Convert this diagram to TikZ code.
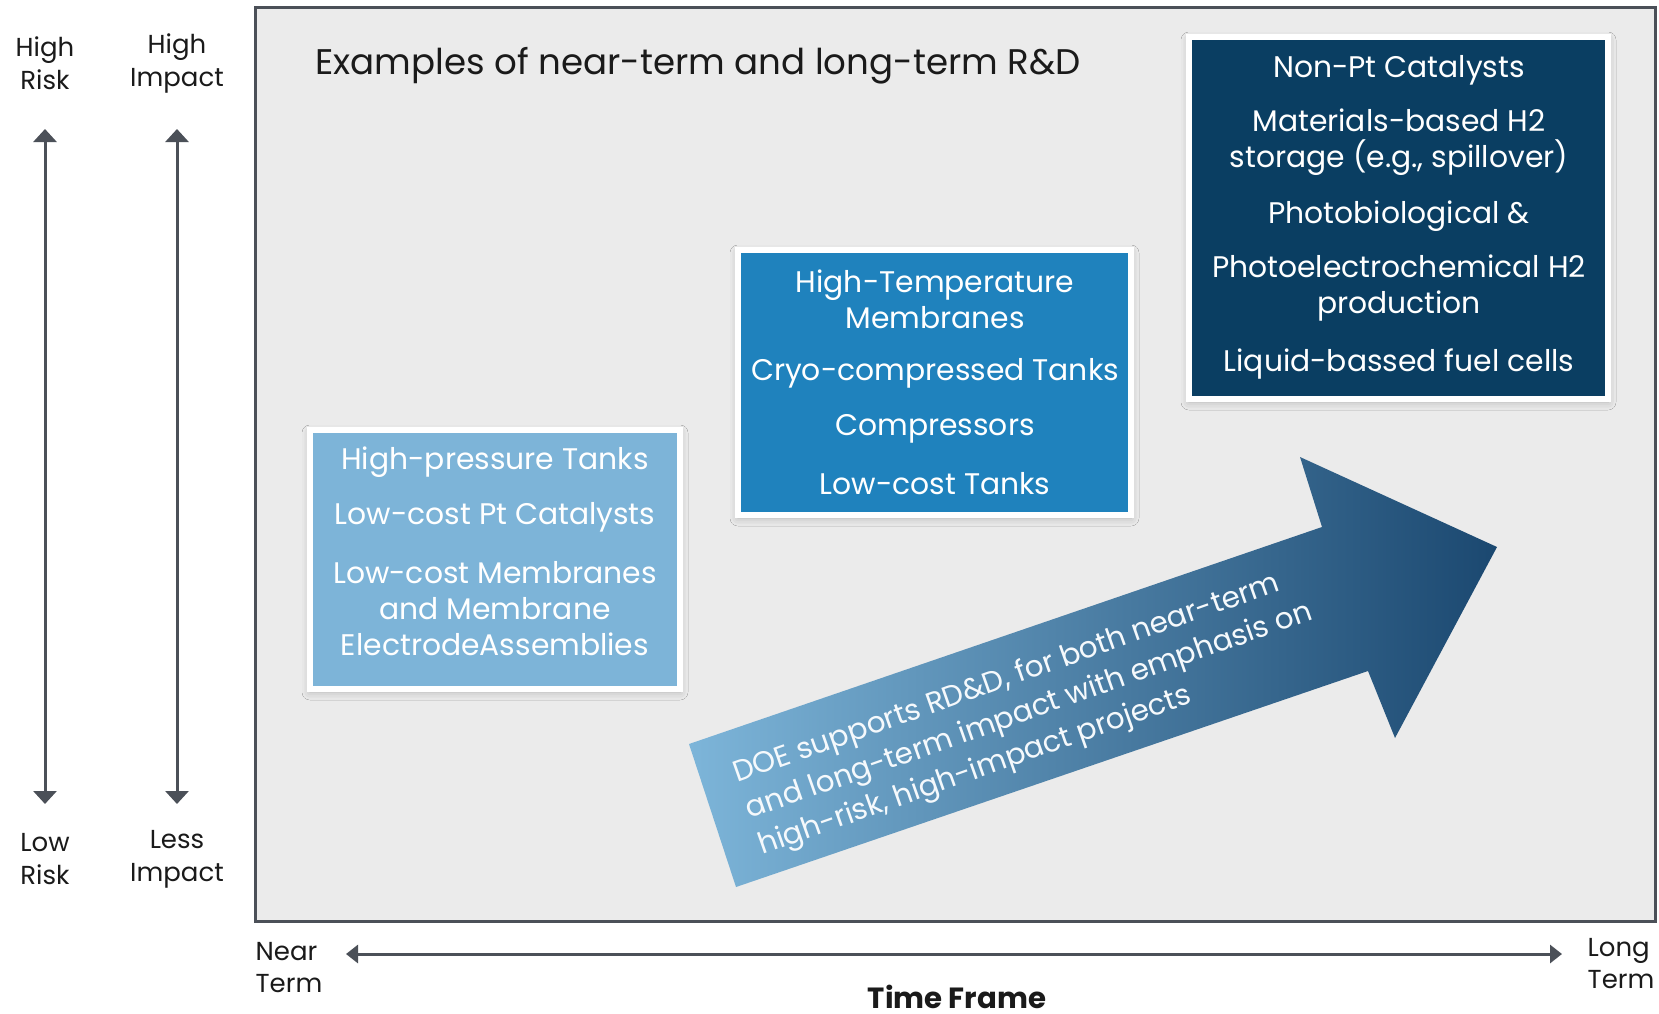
\documentclass[tikz,border=0pt]{standalone}
\usepackage{fontspec}
\setmainfont{Poppins}
\usetikzlibrary{arrows.meta,shadows.blur}
\definecolor{framefill}{HTML}{EBEBEB}
\definecolor{frameline}{HTML}{4B5058}
\definecolor{boxA}{HTML}{7DB4D8}
\definecolor{boxB}{HTML}{1F82BD}
\definecolor{boxC}{HTML}{0A3E62}
\definecolor{arrL}{HTML}{7DB5D9}
\definecolor{arrR}{HTML}{1B4870}
\definecolor{txt}{HTML}{1A1A1A}
\newcommand{\fsz}[2]{\fontsize{#1}{#2}\selectfont}
\tikzset{
  axislabel/.style={font=\fsz{13pt}{16.5pt}, text=txt, align=center, inner sep=0pt},
  sidelabel/.style={font=\fsz{13pt}{16pt}, text=txt, align=left, inner sep=0pt},
  axisarrow/.style={draw=frameline, line width=1.5pt, {Triangle[width=11.5pt,length=6.5pt]}-{Triangle[width=11.5pt,length=6.5pt]}},
  timearrow/.style={draw=frameline, line width=1.5pt, {Triangle[width=9pt,length=6pt]}-{Triangle[width=9pt,length=6pt]}},
  itembox/.style={draw=white, line width=3pt, inner sep=0pt,
    blur shadow={shadow xshift=0pt, shadow yshift=-1.5pt, shadow blur radius=4pt, shadow opacity=25}},
  itemtext/.style={font=\fsz{14.9pt}{18pt}, text=white, align=center, inner sep=0pt},
  arrowtext/.style={font=\fsz{14.7pt}{18pt}, text=white!92!arrL, anchor=base west, inner sep=0pt, rotate=19.5},
}
\begin{document}
\begin{tikzpicture}[x=0.5pt,y=-0.5pt]
\useasboundingbox (0,0) rectangle (1659,1013);
\fill[white] (0,0) rectangle (1659,1013);

% main frame
\draw[frameline, line width=1.5pt, fill=framefill] (255,7) rectangle (1655,921);

% left axis labels
\node[axislabel] (hrisk) at (45,63) {High\\Risk};
\node[axislabel] (himpact) at (177,63) {High\\Impact};
\node[axislabel] (lrisk) at (45,859) {Low\\Risk};
\node[axislabel] (limpact) at (177,859) {Less\\Impact};
\coordinate (rtop) at (45,129);
\coordinate (rbot) at (45,804);
\coordinate (itop) at (177,129);
\coordinate (ibot) at (177,804);
\draw[axisarrow] (rtop) -- (rbot);
\draw[axisarrow] (itop) -- (ibot);

% time axis
\node[sidelabel] (near) at (289,968) {Near\\Term};
\node[sidelabel] (long) at (1621,964) {Long\\Term};
\node[font=\fsz{14.6pt}{16pt}\bfseries, text=txt, inner sep=0pt] (tframe) at (957,997) {Time Frame};
\coordinate (tleft) at (346,954);
\coordinate (tright) at (1562,954);
\draw[timearrow] (tleft) -- (tright);

% title
\node[font=\fsz{17.8pt}{20pt}, text=txt, inner sep=0pt] (title) at (698,66) {Examples of near-term and long-term R\&D};

% big arrow
\coordinate (a1) at (736,887);
\coordinate (a2) at (689,744);
\coordinate (a3) at (1322,527);
\coordinate (a4) at (1300,457);
\coordinate (a5) at (1497,547);
\coordinate (a6) at (1395,738);
\coordinate (a7) at (1368,671);
\shade[left color=arrL, right color=arrR] (a1) -- (a2) -- (a3) -- (a4) -- (a5) -- (a6) -- (a7) -- cycle;
\node[arrowtext] (at1) at (737,783) {DOE supports RD\&D, for both near-term};
\node[arrowtext] (at2) at (749.5,819) {and long-term impact with emphasis on};
\node[arrowtext] (at3) at (762,855) {high-risk, high-impact projects};

% box 1
\node[itembox, fill=boxA, minimum width=185pt, minimum height=129.5pt] (box1) at (495,559.5) {};
\node[itemtext] (b1a) at (495,462) {High-pressure Tanks};
\node[itemtext] (b1b) at (495,517) {Low-cost Pt Catalysts};
\node[itemtext] (b1c) at (495,609) {Low-cost Membranes\\and Membrane\\ElectrodeAssemblies};

% box 2
\node[itembox, fill=boxB, minimum width=196.5pt, minimum height=132.5pt] (box2) at (934.5,382.5) {};
\node[itemtext] (b2a) at (935,299) {High-Temperature\\Membranes};
\node[itemtext] (b2b) at (935,373) {Cryo-compressed Tanks};
\node[itemtext] (b2c) at (935,429) {Compressors};
\node[itemtext] (b2d) at (935,484) {Low-cost Tanks};

% box 3
\node[itembox, fill=boxC, minimum width=209.5pt, minimum height=181pt] (box3) at (1398.5,218) {};
\node[itemtext] (b3a) at (1399,70) {Non-Pt Catalysts};
\node[itemtext] (b3b) at (1399,142) {Materials-based H2\\storage (e.g., spillover)};
\node[itemtext] (b3c) at (1399,216) {Photobiological \&};
\node[itemtext] (b3d) at (1399,288) {Photoelectrochemical H2\\production};
\node[itemtext] (b3e) at (1399,364) {Liquid-bassed fuel cells};
\end{tikzpicture}
\end{document}
